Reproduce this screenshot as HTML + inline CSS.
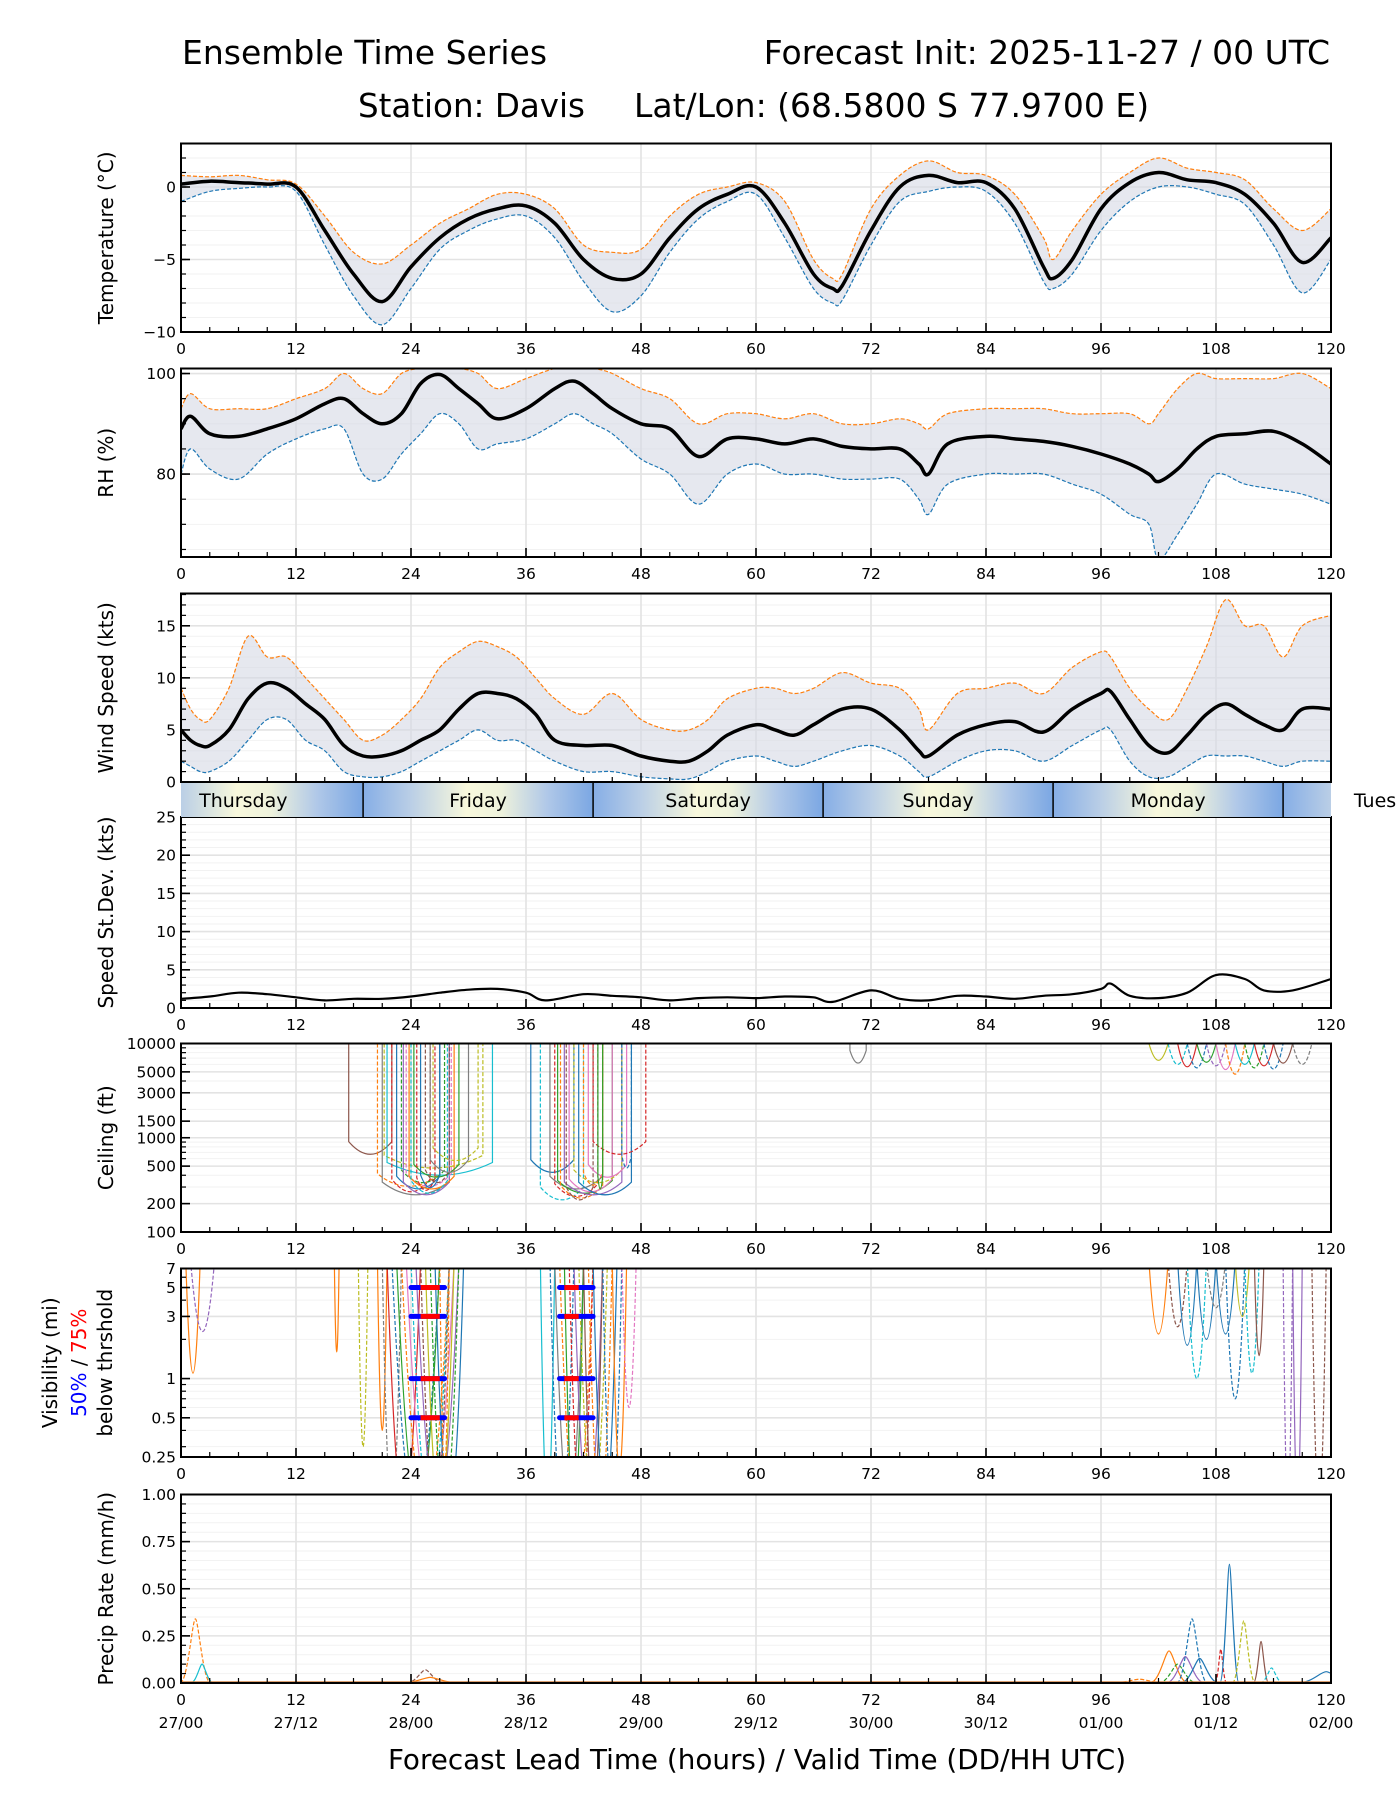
<!DOCTYPE html>
<html><head><meta charset="utf-8"><style>
body{margin:0;background:#fff}
svg{display:block;font-family:"DejaVu Sans","Liberation Sans",sans-serif}
</style></head><body>
<svg id="c" width="1400" height="1800" viewBox="0 0 1400 1800">
<text x="182" y="64" font-size="33">Ensemble Time Series</text>
<text x="1330" y="64" font-size="33" text-anchor="end">Forecast Init: 2025-11-27 / 00 UTC</text>
<text x="358" y="117" font-size="32.5">Station: Davis</text>
<text x="634" y="117" font-size="33">Lat/Lon: (68.5800 S 77.9700 E)</text>
<text x="757" y="1769" font-size="27.8" text-anchor="middle">Forecast Lead Time (hours) / Valid Time (DD/HH UTC)</text>
<g id="root"></g>
</svg>
<script>
// ---- data ----
const tempT=[0,3,6,9,12,15,18,21,24,27,30,33,36,39,42,45,48,51,54,57,60,63,66,68,69,72,75,78,81,84,87,90,91,93,96,99,102,105,108,111,114,117,120];
const tempMean=[0.2,0.4,0.3,0.2,0,-3,-6,-7.9,-5.5,-3.5,-2.2,-1.5,-1.3,-2.5,-5,-6.3,-6,-3.5,-1.5,-0.5,0,-2.5,-6,-7,-6.8,-3,0,0.8,0.3,0.3,-1.5,-5.5,-6.3,-5,-1.5,0.3,1,0.5,0.3,-0.5,-2.5,-5.2,-3.5];
const tempLo=[-1,-0.3,-0.1,0,-0.3,-4,-7.5,-9.5,-7,-4.3,-3,-2.2,-2,-3.5,-6.5,-8.6,-7.5,-4.5,-2.2,-1,-0.5,-3.5,-7,-8,-7.8,-4,-1,-0.3,0,-0.3,-2.5,-6.5,-7,-6,-3,-1,0,0,-0.5,-1.2,-4,-7.3,-5];
const tempHi=[0.8,0.7,0.8,0.5,0.2,-2,-4.5,-5.3,-4,-2.5,-1.5,-0.5,-0.5,-1.5,-4,-4.5,-4.3,-2,-0.5,0,0.3,-1,-5,-6.3,-6,-1.5,0.8,1.8,1,0.8,-0.5,-3.5,-5,-3,-0.5,1,2,1.3,1,0.5,-1.5,-3,-1.5];

const rhT=[0,1,3,6,9,12,15,17,19,21,23,25,27,29,31,33,36,39,41,43,45,48,51,54,57,60,63,66,69,72,75,77,78,80,84,87,90,93,96,99,101,102,104,106,108,111,114,117,120];
const rhMean=[89,91.5,88,87.5,89,91,94,95,92,90,92,98,99.8,97,94,91,93,97,98.5,96,93,90,89,83.5,87,87,86,87,85.5,85,85,82,80,86,87.5,87,86.5,85.5,84,82,80,78.5,81,85,87.5,88,88.5,86,82];
const rhLo=[80,85,81,79,84,87,89,89,80,79,84,88,92,90,85,86,87,90,92,90,88,83,80,74,80,82,80,80,79,79,79,75,72,78,80,80,80,78,76,72,70,63,68,74,80,78,77,76,74];
const rhHi=[93,96,93,93,93,95,97,100,97,96,100,101,101,101,100,97,99,101,101,101,100,97,95,90,92,92,91,92,90,90,91,90,89,92,93,93,93,92,92,92,90,92,97,100,99,99,99,100,97];

const windT=[0,1,2,3,5,7,9,11,13,15,17,19,21,23,25,27,29,31,33,35,37,39,42,45,48,51,53,55,57,60,62,64,66,69,72,75,77,78,81,84,87,90,93,96,97,99,101,103,105,107,109,111,113,115,117,120];
const windMean=[5,4,3.5,3.5,5,8,9.5,9,7.5,6,3.5,2.5,2.5,3,4,5,7,8.5,8.5,8,6.5,4,3.5,3.5,2.5,2,2,3,4.5,5.5,5,4.5,5.5,7,7,5,3,2.5,4.5,5.5,5.8,4.8,7,8.5,8.7,6,3.5,2.8,4.5,6.5,7.5,6.5,5.5,5,7,7];
const windLo=[2,1.5,1,1,2,4,6,6,4,3,1,0.5,0.5,1,2,3,4,5,4,4,3,2,1,1,0.5,0.3,0.3,1,2,2.5,2,1.5,2,3,3.5,2.5,1,0.5,2,3,3,2,3.5,5,5,2,0.5,0.5,1.5,2.5,2.5,2.5,2,1.5,2,2];
const windHi=[9,7,6,6,9,14,12,12,10,8,6,4,4.5,6,8,11,12.5,13.5,13,12,10,8,6.5,8.5,6,5,5,6,8,9,9,8.5,9,10.5,9.5,9,7,5,8.5,9,9.5,8.5,11,12.5,12,9,7,6,9,13,17.5,15,15,12,15,16];

const sdT=[0,3,6,9,12,15,18,21,24,27,30,33,36,38,42,45,48,51,54,57,60,63,66,68,72,75,78,81,84,87,90,93,96,97,99,102,105,108,111,113,116,120];
const sdVal=[1.2,1.5,2,1.8,1.4,1,1.2,1.2,1.5,2,2.4,2.5,2,1,1.8,1.6,1.4,1,1.3,1.4,1.3,1.5,1.4,0.8,2.3,1.2,1,1.6,1.5,1.2,1.6,1.8,2.5,3.2,1.6,1.3,2,4.3,3.8,2.3,2.3,3.8];

const ceilStart=[17.5,20.5,21,21.2,21.5,22,22.5,23,23.2,23.5,23.8,24,24.3,24.6,25,25.5,26,26.3,36.5,37.5,38.5,39,39.3,39.6,40,40.2,40.5,41,41.5,42,42.5,43,44,46,69.8];
const ceilEnd=[22,27,28,31.5,32.5,26,27,27.5,28,28.2,28.5,27.8,29,26.5,27,28,30,31,41,42,44,43.5,45,44,46,43,45,46,47,44,46.5,48.5,43.5,47,71.5];
const ceilMin=[700,320,260,500,420,280,300,350,260,320,300,270,400,290,310,350,450,600,450,230,300,250,270,240,260,230,280,350,260,330,400,700,300,500,6500];
const ceilColor=["#8c564b","#ff7f0e","#7f7f7f","#bcbd22","#17becf","#d62728","#1f77b4","#2ca02c","#9467bd","#e377c2","#ff7f0e","#17becf","#2ca02c","#d62728","#1f77b4","#8c564b","#7f7f7f","#bcbd22","#1f77b4","#17becf","#7f7f7f","#d62728","#2ca02c","#ff7f0e","#9467bd","#8c564b","#e377c2","#bcbd22","#1f77b4","#ff7f0e","#e377c2","#d62728","#2ca02c","#1f77b4","#7f7f7f"];
const ceilLateStart=[101,103,104,105,106,107,108,109,110,111,112,113,114,116];
const ceilLateMin=[5500,4500,4000,3800,5000,4200,3500,2800,4500,3800,4200,3600,4800,4500];

const visStart=[0.5,1,16,18.5,20.5,21,21.5,22,22.5,23,23.5,24,24.5,25,25.5,26,26.5,27,37.5,38.5,39,39.5,40,40.5,41,41.5,42,42.5,43,44,45,46,101,103,104,105,106,107,108,109,110,111,112,115,116,118];
const visEnd=[2,3.5,16.5,19.5,21.5,23,25,27,27,28,28.5,28,29,28,28.5,29,29.5,28,39,41,42,43,42,43,44,44.5,44,45,45.5,46,46.5,47.5,103,105,106,107,108,109,110,111,111.5,112.5,113,116,117,119.5];
const visMin=[1.1,2.3,1.6,0.3,0.4,0.1,0.1,0.1,0.1,0.1,0.1,0.1,0.1,0.1,0.1,0.1,0.1,0.2,0.1,0.1,0.1,0.1,0.1,0.1,0.1,0.1,0.1,0.1,0.1,0.1,0.2,0.6,2.2,2.5,1.8,1,2,3.5,2.2,0.7,3,1.1,1.5,0.1,0.1,0.1];
const visColor=["#ff7f0e","#9467bd","#ff7f0e","#bcbd22","#ff7f0e","#7f7f7f","#d62728","#1f77b4","#2ca02c","#ff7f0e","#e377c2","#17becf","#9467bd","#8c564b","#bcbd22","#2ca02c","#1f77b4","#ff7f0e","#17becf","#1f77b4","#7f7f7f","#ff7f0e","#2ca02c","#d62728","#9467bd","#bcbd22","#8c564b","#ff7f0e","#1f77b4","#1f77b4","#ff7f0e","#e377c2","#ff7f0e","#8c564b","#1f77b4","#17becf","#1f77b4","#7f7f7f","#1f77b4","#1f77b4","#bcbd22","#17becf","#8c564b","#9467bd","#9467bd","#8c564b"];
const thrLevels=[5,3,1,0.5];
const thr50Start=[24,39.5];
const thr50End=[27.5,43];
const thr75Start=[25,40];
const thr75End=[27,41.5];

const prCenter=[1.5,2.2,25.5,26,100,103.1,104,104.8,105.5,106.3,108.5,109.4,110.9,112.7,113.8,119.5];
const prPeak=[0.34,0.1,0.07,0.03,0.02,0.17,0.1,0.14,0.34,0.13,0.18,0.63,0.33,0.22,0.08,0.06];
const prWidth=[0.8,0.6,1,1.5,1.5,1,1,1,0.8,1,0.3,0.5,0.6,0.4,0.6,1.5];
const prColor=["#ff7f0e","#17becf","#8c564b","#ff7f0e","#ff7f0e","#ff7f0e","#2ca02c","#9467bd","#1f77b4","#1f77b4","#d62728","#1f77b4","#bcbd22","#8c564b","#17becf","#1f77b4"];

const dayNames=["Thursday","Friday","Saturday","Sunday","Monday","Tues"];
const dayBounds=[19,43,67,91,115];
const xTicks=[0,12,24,36,48,60,72,84,96,108,120];
const xDates=["27/00","27/12","28/00","28/12","29/00","29/12","30/00","30/12","01/00","01/12","02/00"];

// ---- drawing ----
const NS="http://www.w3.org/2000/svg";
const root=document.getElementById('root');
const X0=181,X1=1331;
const xs=h=>X0+h*(X1-X0)/120;
function el(tag,attrs,parent){const e=document.createElementNS(NS,tag);for(const k in attrs)e.setAttribute(k,attrs[k]);(parent||root).appendChild(e);return e;}

const panels=[
 {id:'temperature',top:143.5,bot:332,min:-10,max:3,log:false,maj:[-10,-5,0],minStep:1,label:['Temperature (°C)'],fmt:v=>v<0?'−'+(-v):''+v},
 {id:'rh',top:368.5,bot:557,min:63.5,max:101,log:false,maj:[80,100],minStep:5,label:['RH (%)'],fmt:v=>''+v},
 {id:'wind-speed',top:593.5,bot:782,min:0,max:18.1,log:false,maj:[0,5,10,15],minStep:1,label:['Wind Speed (kts)'],fmt:v=>''+v,noX:true},
 {id:'speed-stdev',top:817,bot:1008,min:0,max:25,log:false,maj:[0,5,10,15,20,25],minStep:1,label:['Speed St.Dev. (kts)'],fmt:v=>''+v},
 {id:'ceiling',top:1043.5,bot:1232,min:100,max:10000,log:true,maj:[100,200,500,1000,1500,3000,5000,10000],minor:[300,400,600,700,800,900,2000,4000,6000,7000,8000,9000],label:['Ceiling (ft)'],fmt:v=>''+v},
 {id:'visibility',top:1268.5,bot:1457,min:0.25,max:7,log:true,maj:[0.25,0.5,1,3,5,7],minor:[0.3,0.4,0.6,0.7,0.8,0.9,2,4,6],label:null,fmt:v=>''+v},
 {id:'precip-rate',top:1494.5,bot:1683,min:0,max:1,log:false,maj:[0,0.25,0.5,0.75,1],minStep:0.05,label:['Precip Rate (mm/h)'],fmt:v=>v.toFixed(2)},
];
panels.forEach(p=>{
  p.ys=v=>{if(p.log){const a=Math.log10(p.min),b=Math.log10(p.max);return p.bot-(Math.log10(Math.max(v,1e-6))-a)/(b-a)*(p.bot-p.top);}return p.bot-(v-p.min)/(p.max-p.min)*(p.bot-p.top);};
  const g=el('g',{});
  
  
  p.g=g;
  let minors=[];
  if(p.log)minors=p.minor;else{for(let k=0;;k++){const v=Math.ceil(p.min/p.minStep)*p.minStep+k*p.minStep;if(v>p.max+1e-9)break;minors.push(v);}}
  p.minors=minors;
  minors.forEach(v=>{const y=p.ys(v);el('line',{x1:X0,x2:X1,y1:y,y2:y,stroke:'#f2f2f2','stroke-width':1},g);});
  p.maj.forEach(v=>{const y=p.ys(v);el('line',{x1:X0,x2:X1,y1:y,y2:y,stroke:'#e3e3e3','stroke-width':1.6},g);});
  xTicks.forEach(h=>el('line',{x1:xs(h),x2:xs(h),y1:p.top,y2:p.bot,stroke:'#e3e3e3','stroke-width':1.6},g));
  p.clip='cp-'+p.id;
  const cp=el('clipPath',{id:p.clip},g);el('rect',{x:X0,y:p.top,width:X1-X0,height:p.bot-p.top},cp);
  p.data=el('g',{'clip-path':'url(#'+p.clip+')'},g);
  
  
});

function pts(p,T,V){return T.map((t,i)=>[xs(t),p.ys(V[i])]);}
function smooth(P){let d='M'+P[0][0].toFixed(1)+','+P[0][1].toFixed(1);
  for(let i=0;i<P.length-1;i++){const p0=P[Math.max(0,i-1)],p1=P[i],p2=P[i+1],p3=P[Math.min(P.length-1,i+2)];
    const c1=[p1[0]+(p2[0]-p0[0])/6,p1[1]+(p2[1]-p0[1])/6],c2=[p2[0]-(p3[0]-p1[0])/6,p2[1]-(p3[1]-p1[1])/6];
    d+=' C'+c1[0].toFixed(1)+','+c1[1].toFixed(1)+' '+c2[0].toFixed(1)+','+c2[1].toFixed(1)+' '+p2[0].toFixed(1)+','+p2[1].toFixed(1);}
  return d;}
function bandFrom(p,T,lo,hi){const a=pts(p,T,hi);const b=pts(p,T,lo).reverse();return smooth(a)+' L'+smooth(b).slice(1)+'Z';}

function ensemble(p,T,mean,lo,hi){
  const b=el('path',{d:bandFrom(p,T,lo,hi),fill:'#d5d9e4',opacity:0.6},p.data);
  
  const l=el('path',{d:smooth(pts(p,T,lo)),fill:'none',stroke:'#1f77b4','stroke-width':1.2,'stroke-dasharray':'4 2'},p.data);
  
  const h=el('path',{d:smooth(pts(p,T,hi)),fill:'none',stroke:'#ff7f0e','stroke-width':1.2,'stroke-dasharray':'4 2'},p.data);
  
  const m=el('path',{d:smooth(pts(p,T,mean)),fill:'none',stroke:'#000','stroke-width':3.5,'stroke-linejoin':'round'},p.data);
  
}
ensemble(panels[0],tempT,tempMean,tempLo,tempHi);
ensemble(panels[1],rhT,rhMean,rhLo,rhHi);
ensemble(panels[2],windT,windMean,windLo,windHi);
{const p=panels[3];const s=el('path',{d:smooth(pts(p,sdT,sdVal)),fill:'none',stroke:'#000','stroke-width':2.2},p.data);
}

{const p=panels[4];
ceilStart.forEach((s,i)=>{const e=ceilEnd[i],m=ceilMin[i];const top=10000;
 const d='M'+xs(s)+','+p.ys(top)+' L'+xs(s)+','+p.ys(m*1.3)+' Q'+xs((s+e)/2)+','+p.ys(m*0.7)+' '+xs(e)+','+p.ys(m*1.3)+' L'+xs(e)+','+p.ys(top);
 const c=el('path',{d:d,fill:'none',stroke:ceilColor[i],'stroke-width':1.2,'stroke-dasharray':i%2?'4 2':'none'},p.data);
 });
ceilLateStart.forEach((s,i)=>{const m=ceilLateMin[i];
 const d='M'+xs(s)+','+p.ys(10000)+' Q'+xs(s+1)+','+p.ys(m*0.8)+' '+xs(s+2)+','+p.ys(10000);
 const c=el('path',{d:d,fill:'none',stroke:ceilColor[i+3],'stroke-width':1.2,'stroke-dasharray':i%2?'4 2':'none'},p.data);
 });
}
{const p=panels[5];
visStart.forEach((s,i)=>{const e=visEnd[i],m=visMin[i];
 const d='M'+xs(s)+','+p.ys(8)+' Q'+xs((s+e)/2)+','+(2*p.ys(m)-p.ys(8))+' '+xs(e)+','+p.ys(8);
 const c=el('path',{d:d,fill:'none',stroke:visColor[i],'stroke-width':1.2,'stroke-dasharray':i%2?'4 2':'none'},p.data);
 });
thrLevels.forEach(v=>{thr50Start.forEach((s,k)=>{const y=p.ys(v);
 const b=el('line',{x1:xs(s),x2:xs(thr50End[k]),y1:y,y2:y,stroke:'#0000ff','stroke-width':5,'stroke-linecap':'round'},p.g);
 
 const r=el('line',{x1:xs(thr75Start[k]),x2:xs(thr75End[k]),y1:y,y2:y,stroke:'#ff0000','stroke-width':5},p.g);
 });});
}
{const p=panels[6];
prCenter.forEach((c,i)=>{const w=prWidth[i];
 const d='M'+xs(c-w*2)+','+p.ys(0)+' C'+xs(c-w)+','+p.ys(0)+' '+xs(c-w*0.4)+','+p.ys(prPeak[i])+' '+xs(c)+','+p.ys(prPeak[i])+' C'+xs(c+w*0.4)+','+p.ys(prPeak[i])+' '+xs(c+w)+','+p.ys(0)+' '+xs(c+w*2)+','+p.ys(0);
 const s=el('path',{d:d,fill:'none',stroke:prColor[i],'stroke-width':1.2,'stroke-dasharray':i%2?'none':'4 2'},p.data);
 });
el('line',{x1:X0,x2:X1,y1:p.ys(0)-1,y2:p.ys(0)-1,stroke:'#d08040','stroke-width':1.5},p.data);
}

panels.forEach((p,pi)=>{
  const g=p.g;
  for(let h=0;h<=120;h+=3){const big=h%12===0;el('line',{x1:xs(h),x2:xs(h),y1:p.bot,y2:p.bot-(big?9:5),stroke:'#000','stroke-width':big?1.6:1.2},g);}
  if(!p.noX)xTicks.forEach((h,i)=>{const t=el('text',{x:xs(h),y:p.bot+22,'font-size':15.5,'text-anchor':'middle'},g);t.textContent=h;
    
    if(pi===6){const t2=el('text',{x:xs(h),y:p.bot+45,'font-size':15.5,'text-anchor':'middle'},g);t2.textContent=xDates[i];
    }});
  p.minors.forEach(v=>{const y=p.ys(v);el('line',{x1:X0,x2:X0+5,y1:y,y2:y,stroke:'#000','stroke-width':1.2},g);});
  p.maj.forEach(v=>{const y=p.ys(v);el('line',{x1:X0,x2:X0+9,y1:y,y2:y,stroke:'#000','stroke-width':1.6},g);
    const t=el('text',{x:X0-5,y:y+5.5,'font-size':15.5,'text-anchor':'end'},g);t.textContent=p.fmt(v);
    });
  el('rect',{x:X0,y:p.top,width:X1-X0,height:p.bot-p.top,fill:'none',stroke:'#000','stroke-width':2},g);
  const cy=(p.top+p.bot)/2;
  if(p.label){const t=el('text',{x:0,y:0,'font-size':20,'text-anchor':'middle',transform:'translate(113,'+cy+') rotate(-90)'},g);t.textContent=p.label[0];
    }
  else{
    const a=el('text',{x:0,y:0,'font-size':20,'text-anchor':'middle',transform:'translate(57,'+cy+') rotate(-90)'},g);a.textContent='Visibility (mi)';
    
    const b=el('text',{x:0,y:0,'font-size':20,'text-anchor':'middle',transform:'translate(86,'+cy+') rotate(-90)'},g);
    
    const s1=el('tspan',{fill:'#0000ff'},b);s1.textContent='50%';const s2=el('tspan',{},b);s2.textContent=' / ';const s3=el('tspan',{fill:'#ff0000'},b);s3.textContent='75%';
    const c=el('text',{x:0,y:0,'font-size':20,'text-anchor':'middle',transform:'translate(112,'+cy+') rotate(-90)'},g);c.textContent='below thrshold';
    
  }
});

{const g=el('g',{});
const defs=el('defs',{},g);
const lg=el('linearGradient',{id:'dayg',x1:0,x2:1,y1:0,y2:0},defs);
[[0,'#86aee6'],[0.2,'#b8cde6'],[0.45,'#f8f8dc'],[0.6,'#eef2dc'],[0.8,'#b0c8e8'],[1,'#7ba7e3']].forEach(s=>el('stop',{offset:s[0],'stop-color':s[1]},lg));
const Y0=783,Y1=817;
const cp=el('clipPath',{id:'bandclip'},defs);el('rect',{x:X0,y:Y0,width:X1-X0,height:Y1-Y0},cp);
const gg=el('g',{'clip-path':'url(#bandclip)'},g);
const starts=[dayBounds[0]-24].concat(dayBounds);
starts.forEach(s=>{const r=el('rect',{x:xs(s),y:Y0,width:xs(s+24)-xs(s),height:Y1-Y0,fill:'url(#dayg)'},gg);
  });
dayBounds.forEach(b=>el('line',{x1:xs(b),x2:xs(b),y1:Y0,y2:Y1,stroke:'#000','stroke-width':1.5},g));
dayNames.forEach((n,i)=>{let cx;if(i===0)cx=xs(6.5);else if(i<5)cx=xs(dayBounds[i-1]+12);else cx=1375;
  const t=el('text',{x:cx,y:Y0+24,'font-size':19,'text-anchor':'middle'},g);t.textContent=n;
  });
}
</script>
</body></html>
